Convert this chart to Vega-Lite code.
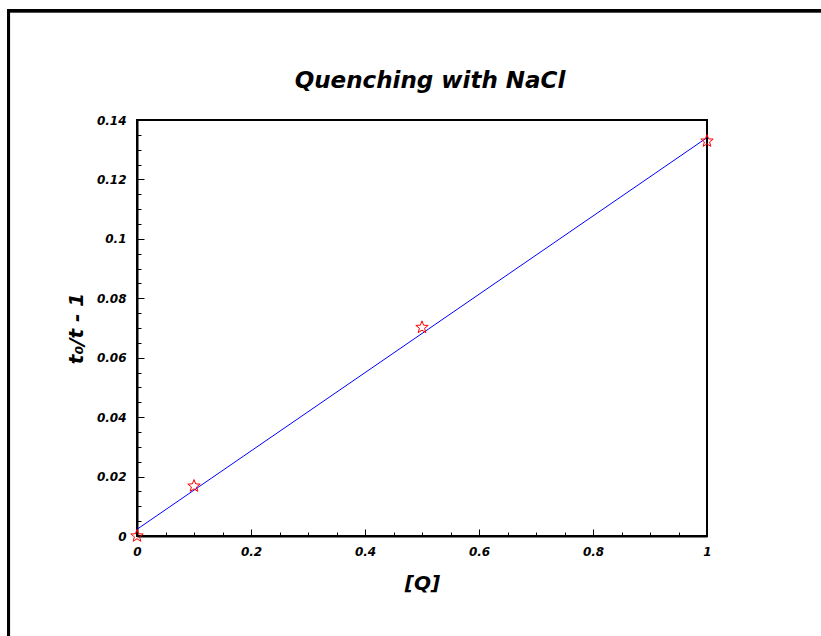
{
  "$schema": "https://vega.github.io/schema/vega-lite/v6.json",
  "autosize": {"type": "none"},
  "padding": {"left": 137, "top": 120, "right": 114, "bottom": 100},
  "width": 570,
  "height": 416,
  "background": "white",
  "title": {
    "text": "Quenching with NaCl",
    "frame": "group",
    "font": "DejaVu Sans",
    "fontSize": 23,
    "fontWeight": "bold",
    "fontStyle": "italic",
    "color": "black",
    "offset": -84,
    "dx": 8
  },
  "data": {
    "values": [
      {"x": 0, "y": 0},
      {"x": 0.1, "y": 0.0168},
      {"x": 0.5, "y": 0.0702},
      {"x": 1, "y": 0.1329}
    ]
  },
  "encoding": {
    "x": {
      "field": "x", "type": "quantitative",
      "scale": {"domain": [0, 1], "nice": false, "zero": false},
      "axis": {
        "orient": "bottom",
        "values": [0, 0.05, 0.1, 0.15, 0.2, 0.25, 0.3, 0.35, 0.4, 0.45, 0.5, 0.55, 0.6, 0.65, 0.7, 0.75, 0.8, 0.85, 0.9, 0.95, 1],
        "labelExpr": "abs(datum.value * 5 - round(datum.value * 5)) < 0.001 ? format(datum.value, '~g') : ''",
        "tickSize": {"condition": {"test": "abs(datum.value * 5 - round(datum.value * 5)) < 0.001", "value": -7}, "value": -4},
        "grid": false, "domainColor": "black", "domainWidth": 2, "tickColor": "black", "tickWidth": 1,
        "labelFlush": false, "labelPadding": 17, "labelFont": "DejaVu Sans", "labelFontSize": 12, "labelFontWeight": "bold", "labelFontStyle": "italic", "labelColor": "black",
        "title": "[Q]", "titleFont": "DejaVu Sans", "titleFontSize": 20, "titleFontWeight": "bold", "titleFontStyle": "italic", "titleColor": "black", "titlePadding": 16
      }
    },
    "y": {
      "field": "y", "type": "quantitative",
      "scale": {"domain": [0, 0.14], "nice": false, "zero": false},
      "axis": {
        "orient": "left",
        "values": [0, 0.005, 0.01, 0.015, 0.02, 0.025, 0.03, 0.035, 0.04, 0.045, 0.05, 0.055, 0.06, 0.065, 0.07, 0.075, 0.08, 0.085, 0.09, 0.095, 0.1, 0.105, 0.11, 0.115, 0.12, 0.125, 0.13, 0.135, 0.14],
        "labelExpr": "abs(datum.value * 50 - round(datum.value * 50)) < 0.001 ? format(datum.value, '~g') : ''",
        "tickSize": {"condition": {"test": "abs(datum.value * 50 - round(datum.value * 50)) < 0.001", "value": -7}, "value": -4},
        "grid": false, "domainColor": "black", "domainWidth": 2, "tickColor": "black", "tickWidth": 1,
        "labelFlush": false, "labelPadding": 18, "labelFont": "DejaVu Sans", "labelFontSize": 12, "labelFontWeight": "bold", "labelFontStyle": "italic", "labelColor": "black",
        "title": "t₀/t - 1", "titleFont": "DejaVu Sans", "titleFontSize": 20, "titleFontWeight": "bold", "titleFontStyle": "italic", "titleColor": "black", "titlePadding": 10
      }
    }
  },
  "layer": [
    {
      "mark": {"type": "rect", "clip": false, "filled": false, "stroke": "black", "strokeWidth": 3},
      "encoding": {
        "x": {"datum": -0.2254, "type": "quantitative"},
        "x2": {"datum": 1.4},
        "y": {"datum": 0.1768, "type": "quantitative"},
        "y2": {"datum": -0.06}
      }
    },
    {
      "transform": [{"regression": "y", "on": "x", "extent": [0, 1]}],
      "mark": {"type": "line", "color": "#0000ff", "strokeWidth": 1}
    },
    {
      "mark": {"type": "point", "shape": "M0,-1L0.247,-0.34L0.951,-0.309L0.399,0.13L0.588,0.809L0,0.42L-0.588,0.809L-0.399,0.13L-0.951,-0.309L-0.247,-0.34Z", "filled": false, "color": "#ff0000", "strokeWidth": 1, "size": 170, "opacity": 1}
    }
  ],
  "config": {
    "view": {"stroke": "black", "strokeWidth": 2}
  }
}
